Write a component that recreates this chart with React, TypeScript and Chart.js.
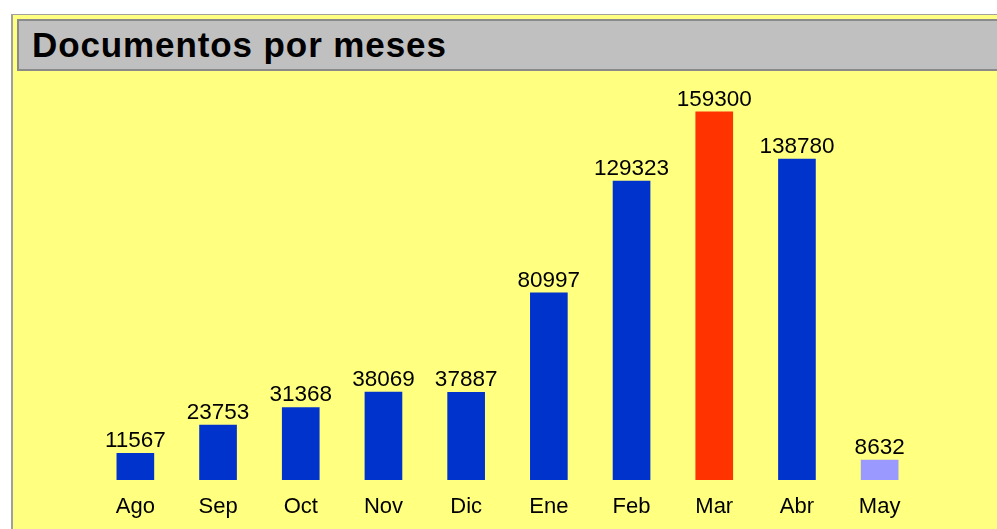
import React, { useEffect, useRef } from "react";
import { Chart, registerables } from "chart.js";

Chart.register(...registerables);

const months = ["Ago", "Sep", "Oct", "Nov", "Dic", "Ene", "Feb", "Mar", "Abr", "May"];
const documents = [11567, 23753, 31368, 38069, 37887, 80997, 129323, 159300, 138780, 8632];
const barColors = [
  "#0033cc", "#0033cc", "#0033cc", "#0033cc", "#0033cc",
  "#0033cc", "#0033cc", "#ff3300", "#0033cc", "#9999ff",
];
const title = "Documentos por meses";

const FONT = "'Liberation Sans', Arial, sans-serif";

const valueLabels = {
  id: "valueLabels",
  afterDatasetsDraw(chart: any) {
    const ctx = chart.ctx;
    const meta = chart.getDatasetMeta(0);
    ctx.save();
    ctx.font = `22.5px ${FONT}`;
    ctx.fillStyle = "#000000";
    ctx.textAlign = "center";
    ctx.textBaseline = "alphabetic";
    meta.data.forEach((bar: any, i: number) => {
      ctx.fillText(String(documents[i]), bar.x, bar.y - 6);
    });
    ctx.restore();
  },
};

export default function App() {
  const ref = useRef<HTMLCanvasElement | null>(null);

  useEffect(() => {
    if (!ref.current) return;
    const chart = new Chart(ref.current, {
      type: "bar",
      data: {
        labels: months,
        datasets: [
          {
            data: documents,
            backgroundColor: barColors,
            borderWidth: 0,
            barThickness: 37,
          },
        ],
      },
      options: {
        animation: false,
        responsive: false,
        maintainAspectRatio: false,
        layout: { padding: { left: 81, right: 76, top: 16, bottom: 0 } },
        plugins: {
          legend: { display: false },
          tooltip: { enabled: false },
          title: { display: false },
        },
        scales: {
          x: {
            grid: { display: false, drawTicks: false },
            border: { display: false },
            ticks: {
              color: "#000000",
              font: { family: FONT, size: 22 },
              padding: 14,
              maxRotation: 0,
              autoSkip: false,
            },
            afterFit: (scale: any) => {
              scale.height = 49;
            },
          },
          y: {
            display: false,
            min: 0,
            max: 170000,
          },
        },
      },
      plugins: [valueLabels],
    });
    return () => chart.destroy();
  }, []);

  return (
    <div
      style={{
        position: "fixed",
        left: 0,
        top: 0,
        width: 997,
        height: 529,
        background: "#ffffff",
        overflow: "hidden",
      }}
    >
      <div
        style={{
          position: "absolute",
          left: 11,
          top: 14,
          width: 1000,
          height: 530,
          background: "#ffff80",
          borderTop: "1px solid #a0a0a0",
          borderLeft: "2px solid #a0a0a0",
          boxSizing: "border-box",
        }}
      />
      <div
        style={{
          position: "absolute",
          left: 17,
          top: 19,
          width: 990,
          height: 52,
          background: "#c0c0c0",
          border: "2px solid #8a8a8a",
          boxSizing: "border-box",
        }}
      >
        <div
          style={{
            position: "absolute",
            left: 13,
            top: 4,
            fontFamily: FONT,
            fontWeight: "bold",
            fontSize: 35,
            letterSpacing: 0.9,
            color: "#000000",
            lineHeight: "40px",
            whiteSpace: "nowrap",
          }}
        >
          {title}
        </div>
      </div>
      <canvas
        ref={ref}
        width={984}
        height={458}
        style={{ position: "absolute", left: 13, top: 71, width: 984, height: 458 }}
      />
    </div>
  );
}
